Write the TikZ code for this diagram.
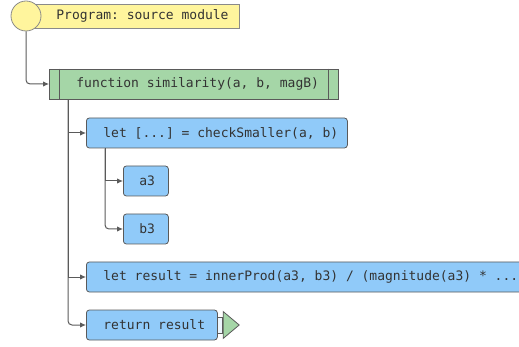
\documentclass[tikz,border=0pt]{standalone}
\usepackage{fontspec}
\setmonofont{DejaVu Sans Mono}
\usetikzlibrary{arrows.meta,shapes.geometric}

\definecolor{yellowf}{HTML}{FFF59D}
\definecolor{greenf}{HTML}{A5D6A7}
\definecolor{bluef}{HTML}{90CAF9}
\definecolor{edge}{HTML}{5A5A5A}
\definecolor{yedge}{HTML}{8A8A8A}
\definecolor{txt}{HTML}{333333}

% box text: total width #1, left padding #2
\newcommand{\bxt}[3]{\makebox[#1pt][l]{\hspace{#2pt}#3}}

\tikzset{
  x=1pt, y=-1pt,
  base/.style={draw=edge, line width=0.8pt, text=txt,
    font=\ttfamily\fontsize{13}{15}\selectfont,
    inner xsep=0pt, inner ysep=0pt, anchor=west},
  blk/.style={base, fill=bluef, rounded corners=3pt, minimum height=30pt},
  fnbox/.style={base, fill=greenf, minimum height=30pt},
  progbox/.style={base, draw=yedge, fill=yellowf, minimum height=24pt},
  conn/.style={draw=edge, line width=1pt,
    -{Latex[length=6pt,width=5.5pt]}},
}

\begin{document}
\begin{tikzpicture}
\useasboundingbox (0,0) rectangle (519,347);
\clip (0,0) rectangle (519,347);

% module header
\node[progbox] (prog) at (26,16) {\bxt{213}{30}{Program: source module}};
\node[circle, draw=yedge, fill=yellowf, line width=0.8pt,
      minimum size=30pt, inner sep=0pt] (circ) at (26,16) {};

% function block with side bars
\node[fnbox] (fn) at (49,84) {\bxt{289}{27}{function similarity(a, b, magB)}};
\draw[edge, line width=0.8pt] ([xshift=10pt]fn.north west) -- ([xshift=10pt]fn.south west);
\draw[edge, line width=0.8pt] ([xshift=-10pt]fn.north east) -- ([xshift=-10pt]fn.south east);

% statements
\node[blk] (let1) at (86,133) {\bxt{261}{17}{let [...] = checkSmaller(a, b)}};
\node[blk] (a3) at (123,181) {\bxt{45}{16}{a3}};
\node[blk] (b3) at (123,229) {\bxt{45}{16}{b3}};
\node[blk] (let2) at (86,277) {\bxt{460}{17}{let result = innerProd(a3, b3) / (magnitude(a3) * ...}};
\node[blk] (ret) at (86,325) {\bxt{131}{17}{return result}};

% return marker
\draw[draw=edge, fill=white!85!bluef, line width=0.8pt]
  (ret.east) ++(0,-8) rectangle ++(5,16);
\node[draw=edge, fill=greenf, line width=0.8pt, isosceles triangle,
      isosceles triangle apex angle=80, minimum height=16pt, inner sep=0pt,
      anchor=west] (retmark) at ([xshift=5pt]ret.east) {};

% connectors
\draw[conn, rounded corners=4pt] (circ.south) |- (fn.west);
\draw[conn] ([xshift=19pt]fn.south west) |- (let1.west);
\draw[conn] ([xshift=19pt]fn.south west) |- (let2.west);
\draw[conn, rounded corners=4pt] ([xshift=19pt]fn.south west) |- (ret.west);
\draw[conn] ([xshift=19pt]let1.south west) |- (a3.west);
\draw[conn, rounded corners=4pt] ([xshift=19pt]let1.south west) |- (b3.west);
\end{tikzpicture}
\end{document}
